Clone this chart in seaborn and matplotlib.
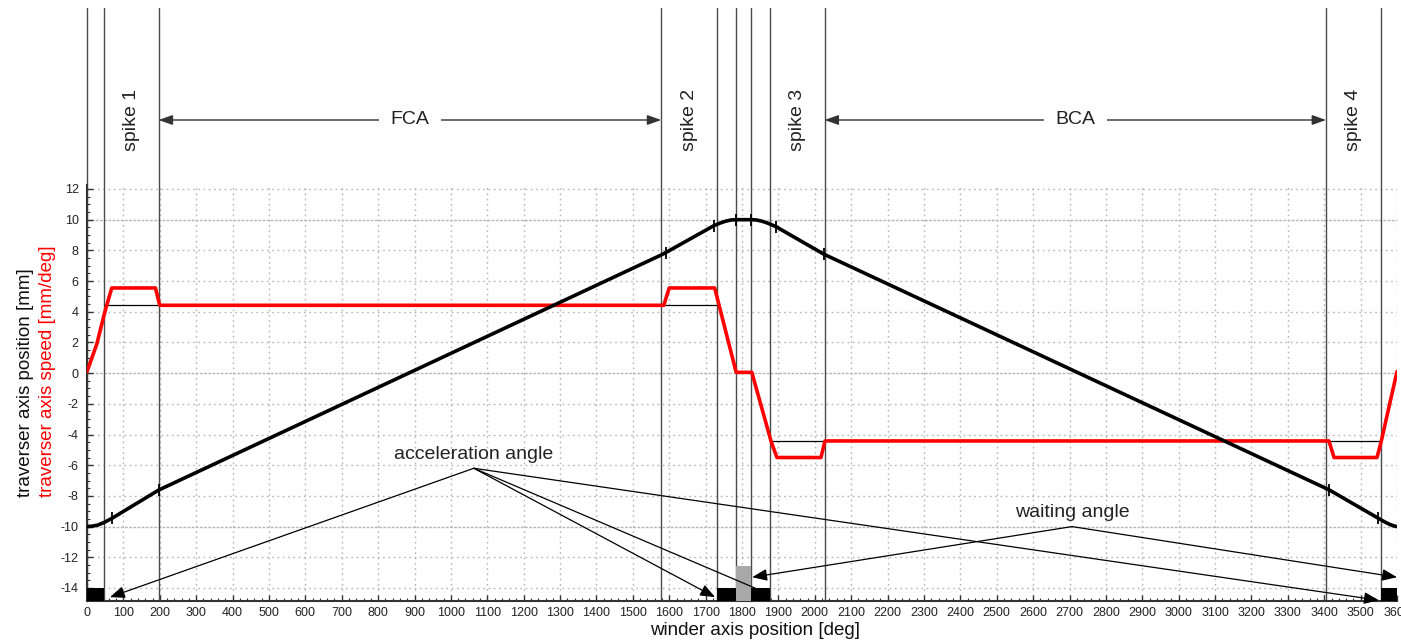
import numpy as np
import pandas as pd
import matplotlib
matplotlib.use("Agg")
import matplotlib.pyplot as plt
import seaborn as sns
from matplotlib.ticker import MultipleLocator
from matplotlib.transforms import blended_transform_factory

# ---------------- data ----------------
pos_x = [0, 15, 30, 48, 68, 197, 1578, 1590, 1722, 1740, 1755, 1770, 1784,
         1825, 1840, 1855, 1870, 1893, 2025, 3413, 3548, 3565, 3580, 3592, 3600]
pos_y = [-10.0, -9.97, -9.9, -9.72, -9.47, -7.62, 7.7, 7.85, 9.6, 9.78, 9.9, 9.98, 10.0,
         10.0, 9.98, 9.9, 9.78, 9.55, 7.75, -7.6, -9.45, -9.68, -9.86, -9.96, -10.0]

mark_x = [68, 197, 1590, 1722, 1784, 1825, 1893, 2025, 3413, 3548]
mark_y = [-9.47, -7.62, 7.85, 9.6, 10.0, 10.0, 9.55, 7.75, -7.6, -9.45]

spd_x = [0, 27, 48, 68, 188, 200, 1585, 1600, 1725, 1737, 1784, 1827, 1880, 1896,
         2017, 2028, 3413, 3427, 3545, 3557, 3578, 3600]
spd_y = [0.1, 1.9, 3.9, 5.55, 5.55, 4.42, 4.42, 5.55, 5.55, 4.42, 0.05, 0.05, -4.45, -5.5,
         -5.5, -4.42, -4.42, -5.5, -5.5, -4.42, -2.2, 0.1]

boundaries = [0, 48, 197, 1578, 1732, 1784, 1825, 1877, 2027, 3405, 3556]

ref_start = [48, 1578, 1877, 3405]
ref_end = [197, 1732, 2027, 3556]
ref_level = [4.42, 4.42, -4.42, -4.42]

bar_start = [0, 1732, 1784, 1825, 3556]
bar_end = [48, 1784, 1825, 1877, 3600]
bar_top = [-14.0, -14.0, -12.6, -14.0, -14.0]
bar_color = ["black", "black", "#a8a8a8", "black", "black"]

spike_labels = ["spike 1", "spike 2", "spike 3", "spike 4"]
spike_lo = [48, 1578, 1877, 3405]
spike_hi = [197, 1732, 2027, 3556]

zone_labels = ["FCA", "BCA"]
zone_lo = [197, 2027]
zone_hi = [1578, 3405]

acc_text = "acceleration angle"
acc_anchor = (1063, -6.2)
acc_targets_x = [63, 1726, 3550]
acc_targets_y = [-14.6, -14.6, -14.8]
acc_line_end = (1840, -14.05)

wait_text = "waiting angle"
wait_anchor = (2707, -10.0)
wait_targets_x = [1828, 3600]
wait_targets_y = [-13.3, -13.3]

x_ticks = list(range(0, 3601, 100))
y_ticks = list(range(-14, 13, 2))

# ---------------- style ----------------
sns.set_theme(style="white")
plt.rcParams["font.family"] = ["Liberation Sans", "DejaVu Sans"]
plt.rcParams["axes.unicode_minus"] = False

W, H = 1401, 641
fig = plt.figure(figsize=(W / 100, H / 100), dpi=100)
ax_left, ax_right, ax_top, ax_bot = 87, 1397, 185, 601
ax = fig.add_axes([ax_left / W, 1 - ax_bot / H, (ax_right - ax_left) / W, (ax_bot - ax_top) / H])
ax.set_facecolor("white")

ax.set_xlim(0, 3600)
ax.set_ylim(-14.85, 12.26)

# grid
grid_col = "#b5b5b5"
for xt in x_ticks:
    ax.axvline(xt, color=grid_col, lw=1.0, ls=(0, (1.2, 2.6)), zorder=0)
for yt in y_ticks:
    if yt in (10, 0, -10):
        ax.axhline(yt, color=grid_col, lw=1.0, ls=(0, (2.0, 1.0)), zorder=0)
    else:
        ax.axhline(yt, color=grid_col, lw=1.0, ls=(0, (1.2, 2.6)), zorder=0)

# boundary lines (extend above axes)
for b in boundaries:
    ax.axvline(b, ymin=0, ymax=(ax_bot - 8) / (ax_bot - ax_top), color="#4a4a4a",
               lw=1.0, clip_on=False, zorder=2)

# bars at bottom
bottom = -14.85
ax.bar(bar_start, [t - bottom for t in bar_top], width=[e - s for s, e in zip(bar_start, bar_end)],
       bottom=bottom, align="edge", color=bar_color, edgecolor="none", zorder=3)

# thin reference lines
ax.hlines(ref_level, ref_start, ref_end, color="black", lw=0.9, zorder=3)

# series
sns.lineplot(x=spd_x, y=spd_y, ax=ax, color="#ff0000", lw=2.6, sort=False,
             estimator=None, zorder=5)
sns.lineplot(x=pos_x, y=pos_y, ax=ax, color="black", lw=2.6, sort=False,
             estimator=None, zorder=6)
ax.plot(mark_x, mark_y, ls="none", marker="|", ms=9, mew=1.3, color="black", zorder=6)

# annotations
arrow_kw = dict(arrowstyle="-|>,head_length=0.75,head_width=0.3", color="black", lw=0.9,
                shrinkA=0, shrinkB=0)
ax.text(acc_anchor[0], -5.33, acc_text, ha="center", va="center", fontsize=14, color="#222222",
        zorder=7)
for tx, ty in zip(acc_targets_x, acc_targets_y):
    ax.annotate("", xy=(tx, ty), xytext=acc_anchor, arrowprops=arrow_kw, annotation_clip=False,
                zorder=4)
ax.plot([acc_anchor[0], acc_line_end[0]], [acc_anchor[1], acc_line_end[1]], color="black",
        lw=0.9, zorder=4)

ax.text(wait_anchor[0], -9.1, wait_text, ha="center", va="center", fontsize=14, color="#222222",
        zorder=7)
for tx, ty in zip(wait_targets_x, wait_targets_y):
    ax.annotate("", xy=(tx, ty), xytext=wait_anchor, arrowprops=arrow_kw, annotation_clip=False,
                zorder=4)

# top region labels
trans = blended_transform_factory(ax.transData, ax.transAxes)
y_top = (ax_bot - 120) / (ax_bot - ax_top)
for lab, lo, hi in zip(spike_labels, spike_lo, spike_hi):
    ax.text((lo + hi) / 2, y_top, lab, transform=trans, rotation=90, ha="center", va="center",
            fontsize=14, color="#222222", clip_on=False)
dbl_kw = dict(arrowstyle="<|-|>,head_length=0.7,head_width=0.25", color="#333333", lw=1.0,
              shrinkA=0, shrinkB=0)
for lab, lo, hi in zip(zone_labels, zone_lo, zone_hi):
    ax.annotate("", xy=(hi, y_top), xytext=(lo, y_top), xycoords=trans, textcoords=trans,
                arrowprops=dbl_kw, annotation_clip=False)
    ax.text((lo + hi) / 2, y_top, lab, transform=trans, ha="center", va="center", fontsize=14,
            color="#222222", clip_on=False,
            bbox=dict(boxstyle="square,pad=0.6", fc="white", ec="none"))

# ticks / spines
ax.set_xticks(x_ticks)
ax.set_yticks(y_ticks)
ax.xaxis.set_minor_locator(MultipleLocator(20))
ax.yaxis.set_minor_locator(MultipleLocator(0.5))
ax.tick_params(axis="both", which="major", direction="in", length=4, width=1.0,
               color="#333333", labelsize=9, labelcolor="#222222")
ax.tick_params(axis="both", which="minor", direction="in", length=2.5, width=0.8, color="#333333")
ax.tick_params(axis="x", pad=4)
ax.tick_params(axis="y", pad=6)
ax.tick_params(left=True, bottom=True, which="both")
for s in ["top", "right"]:
    ax.spines[s].set_visible(False)
for s in ["left", "bottom"]:
    ax.spines[s].set_color("#333333")
    ax.spines[s].set_linewidth(1.5)

ax.set_xlabel("winder axis position [deg]", fontsize=13.5, color="#111111")
ax.xaxis.set_label_coords((755 - ax_left) / (ax_right - ax_left), (ax_bot - 622) / (ax_bot - ax_top))
ax.set_ylabel("")

fig.text(25 / W, 1 - 497 / H, "traverser axis position [mm]", rotation=90, ha="center",
         va="bottom", fontsize=13.5, color="#111111")
fig.text(48 / W, 1 - 497 / H, "traverser axis speed [mm/deg]", rotation=90, ha="center",
         va="bottom", fontsize=13.5, color="#ff0000")

fig.savefig("out.png", dpi=100)
